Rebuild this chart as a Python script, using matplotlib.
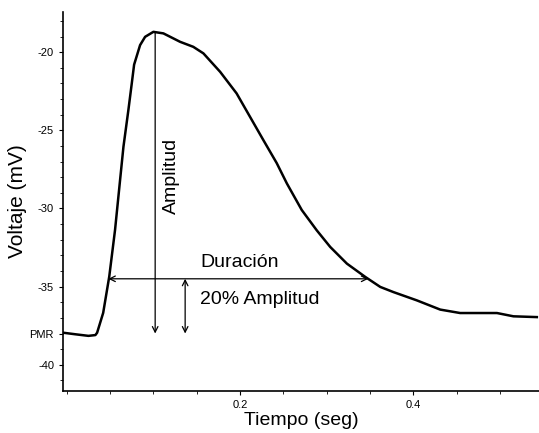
import matplotlib.pyplot as plt
from matplotlib.ticker import MultipleLocator

plt.rcParams['font.family'] = ['Liberation Sans', 'DejaVu Sans']

# potencial de accion
tiempo = [-0.004, 0.010, 0.025, 0.033, 0.035, 0.042, 0.049, 0.0557, 0.0615,
          0.0654, 0.0711, 0.075, 0.0777, 0.0846, 0.0904, 0.100, 0.102, 0.1115,
          0.1308, 0.146, 0.1577, 0.177, 0.196, 0.2115, 0.2269, 0.2423, 0.254,
          0.2712, 0.2885, 0.304, 0.3233, 0.3445, 0.3618, 0.377, 0.404, 0.431,
          0.454, 0.4965, 0.5155, 0.5425]
voltaje = [-37.95, -38.05, -38.15, -38.1, -37.95, -36.68, -34.36, -31.37, -28.18,
           -26.05, -23.7, -22.0, -20.8, -19.55, -19.02, -18.7, -18.72, -18.8,
           -19.34, -19.66, -20.08, -21.26, -22.64, -24.14, -25.63, -27.1, -28.4,
           -30.1, -31.4, -32.46, -33.53, -34.38, -35.02, -35.35, -35.88, -36.47,
           -36.69, -36.69, -36.9, -36.95]

pmr = -38.0
t_pico = 0.102
v_pico = -18.7
v_20 = -34.5
t_ini, t_fin = 0.048, 0.348
t_20 = 0.1366

yticks = [-40, pmr, -35, -30, -25, -20]
ylabels = ['-40', 'PMR', '-35', '-30', '-25', '-20']
xticks = [0.2, 0.4]
xlabels = ['0.2', '0.4']

fig = plt.figure(figsize=(5.39, 4.33), dpi=100)
ax = fig.add_axes([0.117, 0.098, 0.883, 0.874])

ax.plot(tiempo, voltaje, color='black', lw=1.8)

flecha = dict(color='black', lw=0.9, shrinkA=0, shrinkB=0)
# amplitud
ax.annotate('', xy=(t_pico, pmr), xytext=(t_pico, v_pico),
            arrowprops=dict(arrowstyle='->', **flecha))
# 20% amplitud
ax.annotate('', xy=(t_20, pmr), xytext=(t_20, v_20),
            arrowprops=dict(arrowstyle='<->', **flecha))
# duracion
ax.annotate('', xy=(t_fin, v_20), xytext=(t_ini, v_20),
            arrowprops=dict(arrowstyle='<->', **flecha))

ax.text(0.1205, -27.9, 'Amplitud', rotation=90, ha='center', va='center',
        fontsize=14)
ax.text(0.154, -33.45, 'Duración', ha='left', va='center', fontsize=14)
ax.text(0.154, -35.8, '20% Amplitud', ha='left', va='center', fontsize=14)

ax.set_xlim(-0.0043, 0.545)
ax.set_ylim(-41.65, -17.44)
ax.set_yticks(yticks)
ax.set_yticklabels(ylabels)
ax.yaxis.set_minor_locator(MultipleLocator(1))
ax.set_xticks(xticks)
ax.set_xticklabels(xlabels)
ax.xaxis.set_minor_locator(MultipleLocator(0.05))
ax.tick_params(labelsize=8, length=3, width=0.8)
ax.tick_params(which='minor', length=2, width=0.6)

ax.spines['top'].set_visible(False)
ax.spines['right'].set_visible(False)
ax.spines['left'].set_linewidth(1.2)
ax.spines['bottom'].set_linewidth(1.2)

ax.set_xlabel('Tiempo (seg)', fontsize=14, labelpad=2)
ax.set_ylabel('Voltaje (mV)', fontsize=15, labelpad=2)

fig.savefig('out.png', dpi=100)
